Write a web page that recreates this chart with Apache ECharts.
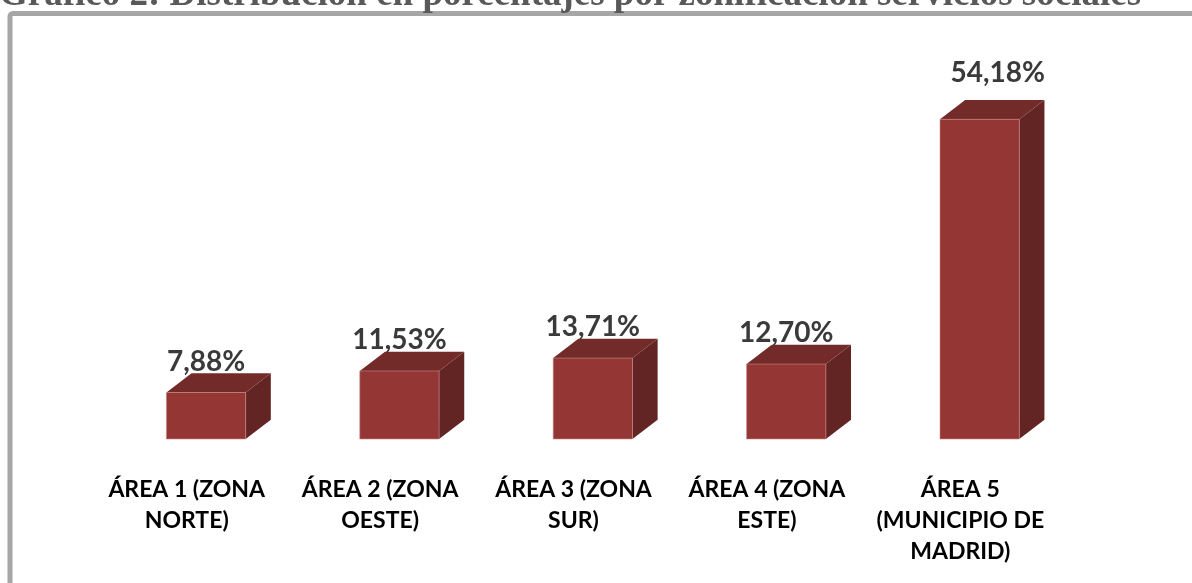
<!DOCTYPE html>
<html>
<head>
<meta charset="utf-8">
<script src="https://cdn.jsdelivr.net/npm/echarts@6/dist/echarts.min.js"></script>
<style>
	html, body { margin: 0; padding: 0; background: #fff; }
	#chart { width: 1192px; height: 583px; }
</style>
</head>
<body>
<div id="chart"></div>
<script>
var categories = [ 'ÁREA 1 (ZONA\nNORTE)', 'ÁREA 2 (ZONA\nOESTE)', 'ÁREA 3 (ZONA\nSUR)', 'ÁREA 4 (ZONA\nESTE)', 'ÁREA 5\n(MUNICIPIO DE\nMADRID)' ];
var values = [ 7.88, 11.53, 13.71, 12.70, 54.18 ];
var valueLabels = [ '7,88%', '11,53%', '13,71%', '12,70%', '54,18%' ];

var chart = echarts.init(document.getElementById('chart'));

function renderBox(params, api) {
	var idx = api.value(0);
	var val = api.value(1);
	var base = api.coord([ idx, 0 ]);
	var top = api.coord([ idx, val ]);
	var band = api.size([ 1, 0 ])[0];

	var x0 = base[0] - band * 0.105;
	var w = band * 0.41;
	var dx = band * 0.13;
	var dy = band * 0.1;
	var yb = base[1], yt = top[1];

	// last label sits a bit higher and to the right in the original
	var lx = 0, ly = 0;
	if (idx === values.length - 1) {
		lx = 18;
		ly = -15;
	}

	return {
		type : 'group',
		children : [ {
			type : 'polygon',
			shape : { points : [ [ x0 + w, yt ], [ x0 + w + dx, yt - dy ], [ x0 + w + dx, yb - dy ], [ x0 + w, yb ] ] },
			style : { fill : '#632523' }
		}, {
			type : 'polygon',
			shape : { points : [ [ x0, yt ], [ x0 + dx, yt - dy ], [ x0 + w + dx, yt - dy ], [ x0 + w, yt ] ] },
			style : { fill : '#722b29' }
		}, {
			type : 'rect',
			shape : { x : x0, y : yt, width : w, height : yb - yt },
			style : { fill : '#943634', stroke : '#c98a88', lineWidth : 0.6 }
		}, {
			type : 'text',
			x : x0 + w / 2 + lx,
			y : yt - 31 + ly,
			style : {
				text : valueLabels[idx],
				fill : '#3a3a3a',
				font : 'bold 28px Lato',
				align : 'center',
				verticalAlign : 'middle'
			}
		} ]
	};
}

var data = values.map(function(v, i) {
	return [ i, v ];
});

var option = {
	animation : false,
	title : {
		text : 'Gráfico 2: Distribución en porcentajes por zonificación servicios sociales',
		left : -1,
		top : -23,
		padding : 0,
		textStyle : {
			fontFamily : 'Liberation Serif',
			fontWeight : 'bold',
			fontSize : 37,
			color : '#595959'
		}
	},
	graphic : [ {
		type : 'rect',
		shape : { x : 10, y : 13.5, width : 1400, height : 800, r : 3 },
		style : { fill : 'none', stroke : '#a6a6a6', lineWidth : 5 }
	} ],
	grid : {
		left : 90,
		right : 135,
		top : 85,
		bottom : 144
	},
	xAxis : {
		type : 'category',
		data : categories,
		axisLine : { show : false },
		axisTick : { show : false },
		axisLabel : {
			interval : 0,
			margin : 35,
			color : '#000',
			fontFamily : 'Lato',
			fontWeight : 'bold',
			fontSize : 23,
			lineHeight : 31
		}
	},
	yAxis : {
		type : 'value',
		min : 0,
		max : 60,
		show : false,
		splitLine : { show : false }
	},
	series : [ {
		type : 'custom',
		renderItem : renderBox,
		data : data
	} ]
};
chart.setOption(option);
</script>
</body>
</html>
